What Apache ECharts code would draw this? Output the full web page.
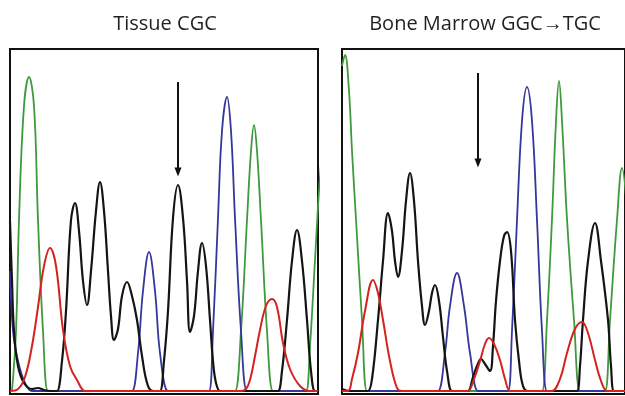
<!DOCTYPE html>
<html>
<head>
<meta charset="utf-8">
<script src="https://cdn.jsdelivr.net/npm/echarts@6/dist/echarts.min.js"></script>
<style>
  html, body { margin: 0; padding: 0; background: #fff; }
  #main { width: 625px; height: 396px; }
</style>
</head>
<body>
<div id="main"></div>
<script>
var dom_trace = document.getElementById('main');
var chart_trace = echarts.init(dom_trace, null, { renderer: 'canvas' });

var panelTitles = ['Tissue CGC', 'Bone Marrow GGC\u2192TGC'];

// Tissue panel traces: [scan position, signal]
var tissueGreen = [[2,0],[6,60],[9,171],[14,285],[19,314],[24,285],[28,171],[33,60],[38,0],[42,0],[221,0],[225,0],[231,60],[237,171],[241,240],[244,266],[247,240],[251,171],[257,60],[263,0],[267,0],[292,0],[296,0],[300,45],[305,131],[309,200],[313,250]];
var tissueRed = [[0,0],[8,2],[15,14],[22,45],[28,84],[34,125],[40,143],[46,125],[53,61],[60,25],[67,11],[75,0],[80,0],[231,0],[236,2],[240,11],[245,35],[250,61],[256,85],[262,92],[267,84],[273,48],[280,22],[290,5],[300,0],[308,0]];
var tissueBlue = [[0,120],[3,60],[8,30],[15,8],[22,0],[26,0],[118,0],[122,0],[128,38],[133,100],[139,139],[145,100],[150,38],[158,0],[162,0],[195,0],[199,0],[203,60],[208,173],[212,260],[217,294],[221,260],[225,173],[231,60],[237,0],[241,0],[308,0]];
var tissueBlack = [[0,170],[2,110],[4,60],[8,25],[14,8],[22,2],[28,3],[34,1],[40,0],[44,0],[47,0],[52,30],[56,80],[61,171],[65,188],[69,160],[73,110],[77,86],[81,120],[86,180],[90,209],[94,180],[98,120],[101,75],[104,51],[108,62],[112,95],[117,109],[122,95],[127,71],[132,35],[138,5],[144,0],[147,0],[150,0],[154,30],[158,80],[163,173],[168,206],[173,173],[177,110],[180,59],[184,75],[188,120],[192,148],[196,125],[200,71],[203,30],[206,8],[210,0],[214,0],[264,0],[268,0],[272,20],[277,71],[282,130],[287,161],[292,130],[297,71],[301,20],[305,0],[308,0]];

// Bone marrow panel traces
var marrowGreen = [[0,325],[3,336],[7,300],[10,240],[14,172],[20,71],[25,0],[29,0],[196,0],[200,0],[205,71],[210,172],[214,270],[217,310],[220,270],[225,172],[232,71],[238,0],[242,0],[259,0],[263,0],[268,71],[275,171],[280,223],[285,180],[290,80]];
var marrowRed = [[0,0],[6,0],[10,12],[16,38],[23,80],[31,111],[36,98],[41,71],[48,30],[55,3],[60,0],[122,0],[126,0],[132,12],[138,30],[143,47],[147,53],[152,47],[158,31],[163,12],[168,0],[172,0],[206,0],[210,0],[218,12],[225,38],[233,62],[240,69],[246,58],[253,31],[259,10],[265,0],[269,0],[290,0]];
var marrowBlue = [[0,0],[92,0],[96,0],[103,38],[108,85],[115,118],[122,85],[128,38],[136,0],[140,0],[162,0],[166,0],[170,60],[175,171],[180,270],[185,304],[190,270],[195,171],[200,60],[205,0],[209,0],[290,0]];
var marrowBlack = [[0,2],[8,0],[22,0],[26,0],[30,12],[36,71],[41,130],[46,178],[50,160],[53,130],[56,114],[60,140],[64,190],[68,218],[72,190],[76,130],[80,85],[83,66],[87,80],[90,98],[93,106],[97,90],[101,54],[105,20],[110,0],[114,0],[122,0],[126,0],[131,14],[135,25],[139,32],[143,27],[148,20],[151,45],[154,90],[158,130],[162,155],[165,159],[169,140],[173,71],[177,30],[181,5],[186,0],[190,0],[231,0],[235,0],[238,25],[241,71],[246,130],[253,168],[259,130],[266,71],[269,25],[272,0],[276,0],[290,0]];

// arrows marking the mutated base: [x, top, tip]
var tissueArrow = [168, 309, 219];
var marrowArrow = [136, 318, 228];

var traceColors = { green: '#3f9a3c', blue: '#35379a', black: '#141414', red: '#d4231e' };

function trace(data, color, idx, width) {
  return {
    type: 'line',
    data: data,
    xAxisIndex: idx,
    yAxisIndex: idx,
    smooth: 0.4,
    showSymbol: false,
    symbol: 'none',
    clip: true,
    silent: true,
    lineStyle: { color: color, width: width || 1.8 },
    z: 2
  };
}

function arrowLine(a) {
  return {
    silent: true,
    symbol: ['none', 'triangle'],
    symbolSize: [7, 9],
    label: { show: false },
    lineStyle: { color: '#111', width: 2, type: 'solid' },
    data: [[{ coord: [a[0], a[1]] }, { coord: [a[0], a[2]] }]]
  };
}

var blackTissue = trace(tissueBlack, traceColors.black, 0, 2.2);
blackTissue.markLine = arrowLine(tissueArrow);
var blackMarrow = trace(marrowBlack, traceColors.black, 1, 2.2);
blackMarrow.markLine = arrowLine(marrowArrow);

var option_trace = {
  animation: false,
  backgroundColor: '#fff',
  grid: [
    { left: 10, top: 49, width: 308, height: 345, show: true, borderColor: '#111', borderWidth: 2, backgroundColor: '#fff' },
    { left: 342, top: 49, right: -3, height: 345, show: true, borderColor: '#111', borderWidth: 2, backgroundColor: '#fff' }
  ],
  xAxis: [
    { type: 'value', gridIndex: 0, min: 0, max: 308, show: false },
    { type: 'value', gridIndex: 1, min: 0, max: 283, show: false }
  ],
  yAxis: [
    { type: 'value', gridIndex: 0, min: -3, max: 342, show: false },
    { type: 'value', gridIndex: 1, min: -3, max: 342, show: false }
  ],
  graphic: [
    { type: 'text', x: 165, y: 24, style: { text: panelTitles[0], fontFamily: 'Open Sans', fontSize: 20, fill: '#231f20', align: 'center', verticalAlign: 'middle' } },
    { type: 'text', x: 485, y: 24, style: { text: panelTitles[1], fontFamily: 'Open Sans', fontSize: 20, fill: '#231f20', align: 'center', verticalAlign: 'middle' } }
  ],
  series: [
    trace(tissueGreen, traceColors.green, 0),
    trace(tissueBlue, traceColors.blue, 0),
    blackTissue,
    trace(tissueRed, traceColors.red, 0, 2),
    trace(marrowGreen, traceColors.green, 1),
    trace(marrowBlue, traceColors.blue, 1),
    blackMarrow,
    trace(marrowRed, traceColors.red, 1, 2)
  ]
};

chart_trace.setOption(option_trace);

window.addEventListener('resize', chart_trace.resize);
</script>
</body>
</html>
